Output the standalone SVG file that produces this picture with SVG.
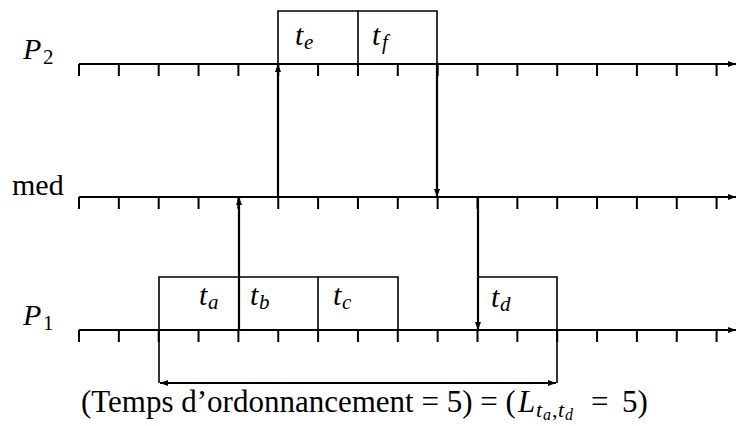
<svg xmlns="http://www.w3.org/2000/svg" width="737" height="426" viewBox="0 0 737 426">
<style>
  .ax { stroke:#000; stroke-width:2.2; fill:none; }
  .tk { stroke:#000; stroke-width:2; fill:none; }
  .bx { stroke:#000; stroke-width:1.6; fill:none; }
  .cn { stroke:#000; stroke-width:2.2; fill:none; }
  text { font-family:"Liberation Serif",serif; fill:#000; font-style:normal; }
  .it { font-style:italic; }
  .lbl { font-size:30px; }
  .big { font-size:31px; }
  .sub { font-size:21px; }
  .msub { font-size:22px; }
  .ssub { font-size:16px; }
</style>
<defs>
  <marker id="ah" viewBox="0 0 8 6" refX="8" refY="3" markerWidth="8" markerHeight="6" orient="auto" markerUnits="userSpaceOnUse">
    <path d="M0,0 L8,3 L0,6 z" fill="#000"/>
  </marker>
  <marker id="ahs" viewBox="0 0 8 6" refX="8" refY="3" markerWidth="8" markerHeight="6" orient="auto-start-reverse" markerUnits="userSpaceOnUse">
    <path d="M0,0 L8,3 L0,6 z" fill="#000"/>
  </marker>
  <g id="ticks">
    <path class="tk" d="M79,0v12 M118.85,0v12 M158.7,0v12 M198.55,0v12 M238.4,0v12 M278.25,0v12 M318.1,0v12 M357.95,0v12 M397.8,0v12 M437.65,0v12 M477.5,0v12 M517.35,0v12 M557.2,0v12 M597.05,0v12 M636.9,0v12 M676.75,0v12 M716.6,0v12"/>
  </g>
</defs>

<g id="axis-P2">
  <text class="lbl it" x="23" y="59">P</text>
  <text class="sub" x="43" y="64">2</text>
  <line class="ax" x1="79" y1="64" x2="736" y2="64" marker-end="url(#ah)"/>
  <use href="#ticks" y="64"/>
</g>

<g id="axis-med">
  <text class="lbl" x="12" y="195">med</text>
  <line class="ax" x1="79" y1="197" x2="736" y2="197" marker-end="url(#ah)"/>
  <use href="#ticks" y="197"/>
</g>

<g id="axis-P1">
  <text class="lbl it" x="23" y="325">P</text>
  <text class="sub" x="43" y="330">1</text>
  <line class="ax" x1="79" y1="330" x2="736" y2="330" marker-end="url(#ah)"/>
  <use href="#ticks" y="330"/>
</g>

<g id="task-te">
  <path class="bx" d="M278,64 V11 H358 V64"/>
  <text class="lbl it" x="295" y="45">t<tspan class="sub" x="304" dy="4">e</tspan></text>
</g>
<g id="task-tf">
  <path class="bx" d="M358,11 H437 V64"/>
  <text class="lbl it" x="372" y="45">t<tspan class="sub" x="382" dy="4">f</tspan></text>
</g>

<g id="task-ta">
  <path class="bx" d="M239,277 H159 V383"/>
  <text class="lbl it" x="199" y="305">t<tspan class="sub" x="208" dy="4">a</tspan></text>
</g>
<g id="task-tb">
  <path class="bx" d="M239,277 H318 V330"/>
  <text class="lbl it" x="250" y="305">t<tspan class="sub" x="259" dy="4">b</tspan></text>
</g>
<g id="task-tc">
  <path class="bx" d="M318,277 H398 V330"/>
  <text class="lbl it" x="333" y="305">t<tspan class="sub" x="342" dy="4">c</tspan></text>
</g>
<g id="task-td">
  <path class="bx" d="M478,277 H557 V383"/>
  <text class="lbl it" x="491" y="307">t<tspan class="sub" x="500" dy="4">d</tspan></text>
</g>

<g id="connectors">
  <line class="cn" x1="239" y1="330" x2="239" y2="197" marker-end="url(#ah)"/>
  <line class="cn" x1="278" y1="197" x2="278" y2="64" marker-end="url(#ah)"/>
  <line class="cn" x1="437" y1="64" x2="437" y2="197" marker-end="url(#ah)"/>
  <line class="cn" x1="478" y1="197" x2="478" y2="330" marker-end="url(#ah)"/>
</g>

<g id="span">
  <line class="cn" x1="160" y1="383" x2="556" y2="383" marker-start="url(#ahs)" marker-end="url(#ahs)"/>
  <text class="big" x="81" y="412">(Temps d’ordonnancement = 5) = (</text>
  <text class="big it" x="518" y="412">L</text>
  <text class="msub it" x="536" y="417">t</text>
  <text class="ssub it" x="543" y="420">a</text>
  <text class="msub" x="552" y="417">,</text>
  <text class="msub it" x="558" y="417">t</text>
  <text class="ssub it" x="565" y="420">d</text>
  <text class="big" x="591" y="412">=</text>
  <text class="big" x="622" y="412">5)</text>
</g>
</svg>
